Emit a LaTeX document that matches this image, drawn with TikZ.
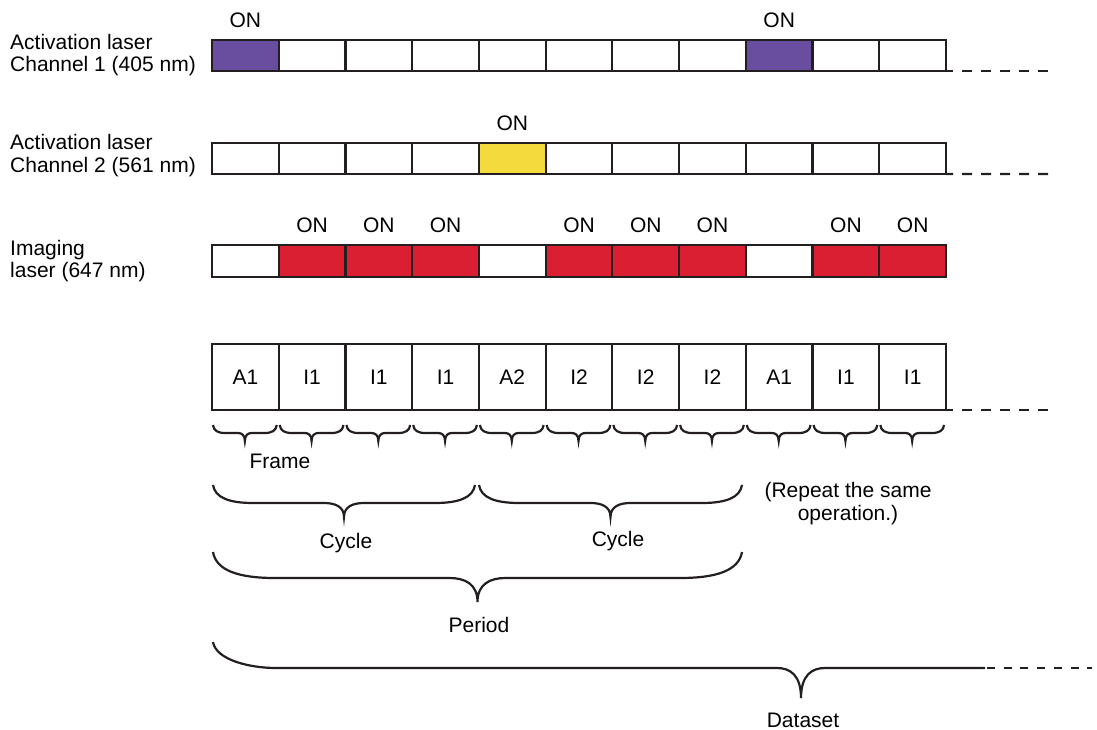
\documentclass[tikz,border=0pt]{standalone}
\usepackage{fontspec}
\setmainfont{Liberation Sans}
\definecolor{ink}{RGB}{35,31,32}
\definecolor{actviolet}{RGB}{105,77,158}
\definecolor{actyellow}{RGB}{245,218,62}
\definecolor{imgred}{RGB}{219,31,51}

% curly brace opening upward: x1, x2, y of ends, y of bar, y of tip, curl width, tip width
\newcommand{\tbrace}[7]{%
  \draw[bracepen] (#1,#3)
    .. controls ({#1+0.05*#6},{#3+0.7*(#4-#3)}) and ({#1+0.4*#6},#4) .. ({#1+#6},#4)
    -- ({(#1+#2)/2-#7},#4)
    .. controls ({(#1+#2)/2-0.45*#7},#4) and ({(#1+#2)/2},{#4+0.25*(#5-#4)}) .. ({(#1+#2)/2},#5)
    .. controls ({(#1+#2)/2},{#4+0.25*(#5-#4)}) and ({(#1+#2)/2+0.45*#7},#4) .. ({(#1+#2)/2+#7},#4)
    -- ({#2-#6},#4)
    .. controls ({#2-0.4*#6},#4) and ({#2-0.05*#6},{#3+0.7*(#4-#3)}) .. (#2,#3);}

\begin{document}
\begin{tikzpicture}[x=1pt,y=-1pt,
  slot/.style={draw=ink, line width=2.2pt, minimum width=66.73pt, inner sep=0pt, outer sep=0pt},
  lbl/.style={font=\fontsize{21}{25}\selectfont, inner sep=0pt, anchor=base},
  side/.style={lbl, anchor=base west},
  dashline/.style={draw=ink, line width=2.2pt, dash pattern=on 10pt off 9pt, dash phase=3pt},
  bracepen/.style={draw=ink, line width=2.2pt}]
\useasboundingbox (0,0) rectangle (1097,730);

% channel 1 activation (405 nm)
\foreach \i/\c in {0/actviolet,1/white,2/white,3/white,4/white,5/white,6/white,7/white,8/actviolet,9/white,10/white}
  {\node[slot, minimum height=31pt, fill=\c] (a\i) at ({212+66.73*(\i+0.5)},55.5) {};}
\node[side] (la1) at (10,50) {Activation laser};
\node[side] (la2) at (10,72) {Channel 1 (405 nm)};
\foreach \i in {0,8}
  {\node[lbl] (aon\i) at (a\i.north |- 0,28) {ON};}
\coordinate (aend) at (1056,71);
\draw[dashline] (a10.south east) -- (aend);

% channel 2 activation (561 nm)
\foreach \i/\c in {0/white,1/white,2/white,3/white,4/actyellow,5/white,6/white,7/white,8/white,9/white,10/white}
  {\node[slot, minimum height=31.3pt, fill=\c] (b\i) at ({212+66.73*(\i+0.5)},158.4) {};}
\node[side] (lb1) at (10,150) {Activation laser};
\node[side] (lb2) at (10,173) {Channel 2 (561 nm)};
\node[lbl] (bon4) at (b4.north |- 0,131) {ON};
\coordinate (bend) at (1056,174);
\draw[dashline] (b10.south east) -- (bend);

% imaging laser (647 nm)
\foreach \i/\c in {0/white,1/imgred,2/imgred,3/imgred,4/white,5/imgred,6/imgred,7/imgred,8/white,9/imgred,10/imgred}
  {\node[slot, minimum height=31.7pt, fill=\c] (c\i) at ({212+66.73*(\i+0.5)},260.9) {};}
\node[side] (lc1) at (10,255) {Imaging};
\node[side] (lc2) at (10,277) {laser (647 nm)};
\foreach \i in {1,2,3,5,6,7,9,10}
  {\node[lbl] (con\i) at (c\i.north |- 0,233) {ON};}

% frame sequence
\foreach \i/\t in {0/A1,1/I1,2/I1,3/I1,4/A2,5/I2,6/I2,7/I2,8/A1,9/I1,10/I1}
  {\node[slot, minimum height=66pt, font=\fontsize{21}{25}\selectfont] (d\i) at ({212+66.73*(\i+0.5)},377) {\t};}
\coordinate (dend) at (1056,410);
\draw[dashline] (d10.south east) -- (dend);

% one brace per frame
\foreach \i [evaluate=\i as \xa using {212+66.73*\i+1},
             evaluate=\i as \xb using {212+66.73*(\i+1)-2}] in {0,...,10}
  {\tbrace{\xa}{\xb}{425}{433}{441}{12}{7}}
\node[lbl] (frame) at (280,468) {Frame};

% cycles
\tbrace{213}{475}{485}{503}{517}{40}{20}
\tbrace{479}{742}{485}{503}{517}{40}{20}
\node[lbl] (cyc1) at (346,548) {Cycle};
\node[lbl] (cyc2) at (618,546) {Cycle};
\node[lbl] (rep1) at (848,497) {(Repeat the same};
\node[lbl] (rep2) at (848,520) {operation.)};

% period
\tbrace{213}{742}{552}{578}{602}{62}{28}
\node[lbl] (period) at (479,632) {Period};

% dataset: brace open to the right
\coordinate (dsA) at (213,642);
\coordinate (dsTip) at (801,698);
\coordinate (dsB) at (985,668);
\coordinate (dsEnd) at (1092,668);
\draw[bracepen] (dsA)
  .. controls (216,660) and (250,668) .. (276,668)
  -- (777,668)
  .. controls (790,668) and (801,675) .. (dsTip)
  .. controls (801,675) and (812,668) .. (825,668)
  -- (dsB);
\draw[draw=ink, line width=2.2pt, dash pattern=on 8pt off 8.7pt, dash phase=-2pt] (dsB) -- (dsEnd);
\node[lbl] (dataset) at (803,727) {Dataset};
\end{tikzpicture}
\end{document}
